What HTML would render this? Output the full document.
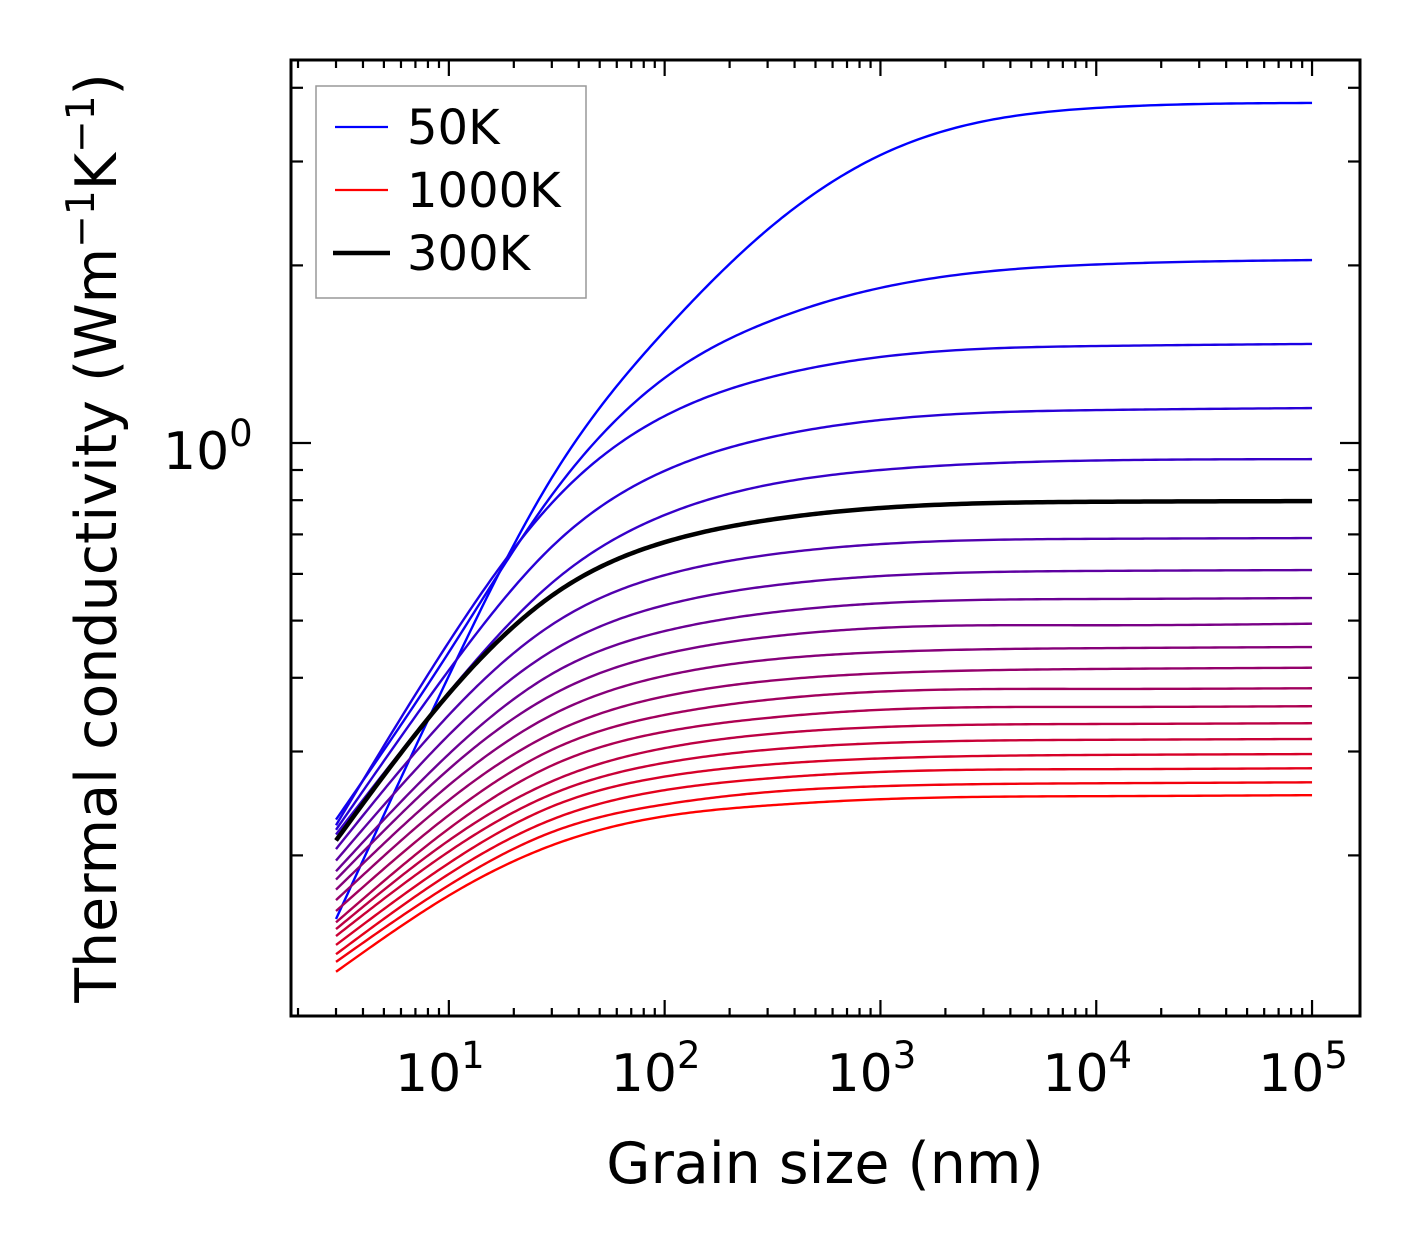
<!DOCTYPE html>
<html><head><meta charset="utf-8">
<style>
html,body{margin:0;padding:0;background:#fff;}
svg{display:block;font-family:"DejaVu Sans","Liberation Sans",sans-serif;}
</style></head>
<body>
<svg id="chart" width="1421" height="1254" viewBox="0 0 1421 1254" xmlns="http://www.w3.org/2000/svg">
<rect x="0" y="0" width="1421" height="1254" fill="#fff"/>
<g id="series"></g>
<g id="axes"></g>
<g id="legend">
  <rect x="316" y="86" width="270" height="212" fill="#fff" fill-opacity="0.8" stroke="#999" stroke-width="1.5"/>
  <line x1="335" y1="127" x2="388" y2="127" stroke="#0000ff" stroke-width="2.2"/>
  <text x="407" y="144" font-size="48">50K</text>
  <line x1="335" y1="190" x2="388" y2="190" stroke="#ff0000" stroke-width="2.2"/>
  <text x="407" y="207" font-size="48">1000K</text>
  <line x1="333" y1="253" x2="390" y2="253" stroke="#000" stroke-width="4.5"/>
  <text x="407" y="270" font-size="48">300K</text>
</g>
<text x="825" y="1183" font-size="57" text-anchor="middle">Grain size (nm)</text>
<text transform="translate(116,538) rotate(-90)" font-size="57" text-anchor="middle">Thermal conductivity (Wm<tspan baseline-shift="super" font-size="39">−1</tspan>K<tspan baseline-shift="super" font-size="39">−1</tspan>)</text>
</svg>
<script>
const grainSizes = [3, 10, 30, 100, 300, 1000, 10000, 100000];
const temperatures = [50,100,150,200,250,300,350,400,450,500,550,600,650,700,750,800,850,900,950,1000];
const k50   = [0.156,0.403,0.873,1.549,2.300,3.076,3.697,3.770];
const k100  = [0.230,0.442,0.816,1.289,1.603,1.832,2.007,2.042];
const k150  = [0.225,0.460,0.791,1.111,1.289,1.399,1.460,1.472];
const k200  = [0.221,0.412,0.667,0.897,1.020,1.094,1.137,1.146];
const k250  = [0.217,0.378,0.579,0.755,0.849,0.900,0.934,0.939];
const k300  = [0.212,0.376,0.551,0.679,0.740,0.776,0.795,0.797];
const k350  = [0.205,0.346,0.492,0.597,0.646,0.674,0.688,0.690];
const k400  = [0.196,0.320,0.444,0.531,0.572,0.595,0.607,0.609];
const k450  = [0.188,0.297,0.406,0.480,0.515,0.535,0.544,0.546];
const k500  = [0.182,0.280,0.374,0.439,0.469,0.486,0.491,0.494];
const k550  = [0.175,0.263,0.346,0.403,0.429,0.442,0.449,0.451];
const k600  = [0.168,0.248,0.322,0.372,0.395,0.407,0.414,0.416];
const k650  = [0.161,0.234,0.302,0.346,0.367,0.379,0.383,0.384];
const k700  = [0.154,0.222,0.284,0.324,0.342,0.353,0.357,0.358];
const k750  = [0.150,0.212,0.267,0.304,0.321,0.330,0.334,0.335];
const k800  = [0.146,0.203,0.254,0.287,0.302,0.310,0.314,0.315];
const k850  = [0.141,0.194,0.242,0.272,0.285,0.292,0.296,0.297];
const k900  = [0.136,0.186,0.230,0.258,0.270,0.277,0.280,0.281];
const k950  = [0.132,0.178,0.219,0.244,0.256,0.262,0.265,0.266];
const k1000 = [0.127,0.171,0.208,0.233,0.243,0.249,0.252,0.253];
const seriesValues = [k50,k100,k150,k200,k250,k300,k350,k400,k450,k500,k550,k600,k650,k700,k750,k800,k850,k900,k950,k1000];
const highlightTemp = 300;
const xMajorTicks = [10,100,1000,10000,100000];
const xMajorExp = ["1","2","3","4","5"];
const yMajorTicks = [1];
const yMajorExp = ["0"];
const yMinorTicks = [0.2,0.3,0.4,0.5,0.6,0.7,0.8,0.9,2,3,4];

const NS = "http://www.w3.org/2000/svg";
const L = 291, R = 1360, T = 60, B = 1016;
const xLogMin = 1 - (449 - L) / 216, xLogMax = 5 + (R - 1312) / 216;
const yLogMin = -(B - 443) / 590, yLogMax = (443 - T) / 590;
function xs(v) { return L + (Math.log10(v) - xLogMin) / (xLogMax - xLogMin) * (R - L); }
function ys(v) { return B - (Math.log10(v) - yLogMin) / (yLogMax - yLogMin) * (B - T); }
function mk(tag, attrs, parent) {
  const e = document.createElementNS(NS, tag);
  for (const k in attrs) e.setAttribute(k, attrs[k]);
  parent.appendChild(e);
  return e;
}
// natural cubic spline in log-log space
function curvePath(vals) {
  const X = grainSizes.map(Math.log10), Y = vals.map(Math.log10);
  const n = X.length, h = [];
  for (let i = 0; i < n - 1; i++) h.push(X[i+1]-X[i]);
  const a = new Array(n).fill(0), b = new Array(n).fill(1), c = new Array(n).fill(0), r = new Array(n).fill(0);
  for (let i = 1; i < n - 1; i++) {
    a[i] = h[i-1]; b[i] = 2*(h[i-1]+h[i]); c[i] = h[i];
    r[i] = 6*((Y[i+1]-Y[i])/h[i] - (Y[i]-Y[i-1])/h[i-1]);
  }
  for (let i = 1; i < n; i++) { const w = a[i]/b[i-1]; b[i] -= w*c[i-1]; r[i] -= w*r[i-1]; }
  const M = new Array(n).fill(0);
  M[n-1] = r[n-1]/b[n-1];
  for (let i = n - 2; i >= 0; i--) M[i] = (r[i] - c[i]*M[i+1]) / b[i];
  let p = "";
  for (let i = 0; i < n - 1; i++) {
    const hh = h[i];
    for (let j = 0; j <= 40; j++) {
      if (i > 0 && j === 0) continue;
      const t = j/40, xv = X[i] + t*hh;
      const A = 1 - t, Bt = t;
      const yv = A*Y[i] + Bt*Y[i+1] + ((A*A*A - A)*M[i] + (Bt*Bt*Bt - Bt)*M[i+1]) * hh*hh/6;
      p += (p ? "L" : "M") + xs(Math.pow(10,xv)).toFixed(2) + "," + ys(Math.pow(10,yv)).toFixed(2);
    }
  }
  return p;
}
const sg = document.getElementById("series");
const nS = temperatures.length;
let hiPath = null;
for (let i = 0; i < nS; i++) {
  const f = i / (nS - 1);
  const col = "rgb(" + Math.round(255*f) + ",0," + Math.round(255*(1-f)) + ")";
  const el = mk("path", {d: curvePath(seriesValues[i]), fill: "none", stroke: col, "stroke-width": 2.4, "stroke-linejoin": "round"}, sg);
  
  
  if (temperatures[i] === highlightTemp) hiPath = seriesValues[i];
}
if (hiPath) {
  const el = mk("path", {d: curvePath(hiPath), fill: "none", stroke: "#000", "stroke-width": 4.5, "stroke-linejoin": "round"}, sg);
  
  
}
const ax = document.getElementById("axes");
for (let e = 0; e <= 5; e++) {
  for (let k = 1; k <= 9; k++) {
    const v = k * Math.pow(10, e);
    const x = xs(v);
    if (x < L + 1 || x > R - 1) continue;
    const len = k === 1 ? 16 : 8;
    const t1 = mk("line", {x1: x, y1: B, x2: x, y2: B - len, stroke: "#000", "stroke-width": 2.2}, ax);
    
    
    const t2 = mk("line", {x1: x, y1: T, x2: x, y2: T + len, stroke: "#000", "stroke-width": 2.2}, ax);
    
    
  }
}
xMajorTicks.forEach((v, i) => {
  const tx = mk("text", {x: xs(v) - 9, y: 1091, "font-size": 52, "text-anchor": "middle"}, ax);
  
  
  tx.textContent = "10";
  const sp = mk("tspan", {dy: -23, "font-size": 37}, tx);
  sp.textContent = xMajorExp[i];
});
function yTick(v, len) {
  const y = ys(v);
  const a = mk("line", {x1: L, y1: y, x2: L + len, y2: y, stroke: "#000", "stroke-width": 2.2}, ax);
  
  
  const b = mk("line", {x1: R, y1: y, x2: R - len, y2: y, stroke: "#000", "stroke-width": 2.2}, ax);
  
  
}
yMinorTicks.forEach(v => yTick(v, 12));
yMajorTicks.forEach((v, i) => {
  yTick(v, 20);
  const tx = mk("text", {x: 163, y: ys(v) + 26, "font-size": 52}, ax);
  
  
  tx.textContent = "10";
  const sp = mk("tspan", {dy: -23, "font-size": 37}, tx);
  sp.textContent = yMajorExp[i];
});
const fr = mk("rect", {x: L, y: T, width: R - L, height: B - T, fill: "none", stroke: "#000", "stroke-width": 3}, ax);


</script>
</body></html>
